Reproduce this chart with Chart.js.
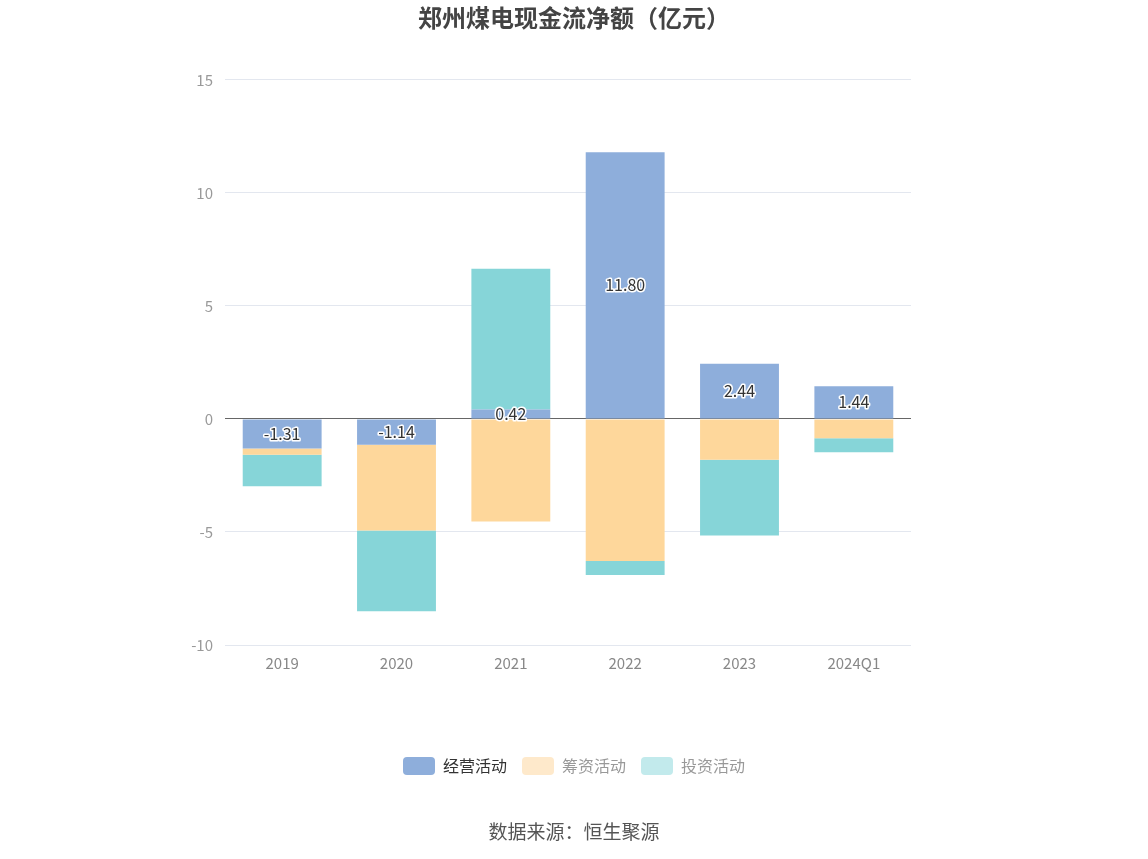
<!DOCTYPE html>
<html>
<head>
<meta charset="utf-8">
<title>郑州煤电现金流净额</title>
<script src="https://cdn.jsdelivr.net/npm/chart.js@4.4.1/dist/chart.umd.min.js"></script>
<style>
  html, body { margin: 0; padding: 0; background: #fff; }
</style>
</head>
<body>
<canvas id="cashChart" width="1148" height="859"></canvas>
<script>
// values in 亿元
const categories = ['2019', '2020', '2021', '2022', '2023', '2024Q1'];
const operating = [-1.31, -1.14, 0.42, 11.80, 2.44, 1.44];
const financing = [-0.27, -3.80, -4.54, -6.28, -1.81, -0.85];
const investing = [-1.40, -3.57, 6.22, -0.62, -3.35, -0.62];
const yTicks = [-10, -5, 0, 5, 10, 15];

const seriesNames = ['经营活动', '筹资活动', '投资活动'];
const barColors = ['#8eaedb', '#fed79b', '#86d5d8'];
const legendBoxColors = ['#8eaedb', '#fee9cb', '#c2eaec'];
const legendTextColors = ['#333333', '#999999', '#999999'];

const FONT = '"Noto Sans CJK SC", "Noto Sans", sans-serif';
Chart.defaults.font.family = FONT;

// title and legend are centred on the whole canvas, not on the padded area
const centreBlocks = {
    id: 'centreBlocks',
    afterLayout(chart) {
        [chart.titleBlock, chart.legend].forEach(box => {
            if (!box) return;
            box.left = 0;
            box.right = chart.width;
            box.width = chart.width;
        });
    }
};

// value labels in the middle of the 经营活动 bars
const barLabels = {
    id: 'barLabels',
    afterDatasetsDraw(chart) {
        const ctx = chart.ctx;
        const meta = chart.getDatasetMeta(0);
        ctx.save();
        ctx.font = '16px ' + FONT;
        ctx.textAlign = 'center';
        ctx.textBaseline = 'middle';
        ctx.lineJoin = 'round';
        ctx.lineWidth = 3;
        ctx.strokeStyle = '#ffffff';
        ctx.fillStyle = '#333333';
        meta.data.forEach((bar, i) => {
            const text = operating[i].toFixed(2);
            const y = (bar.y + bar.base) / 2;
            ctx.strokeText(text, bar.x, y);
            ctx.fillText(text, bar.x, y);
        });
        ctx.restore();
    }
};

// source line under the legend
const sourceNote = {
    id: 'sourceNote',
    afterDraw(chart) {
        const ctx = chart.ctx;
        ctx.save();
        ctx.font = '19px ' + FONT;
        ctx.fillStyle = '#555555';
        ctx.textAlign = 'center';
        ctx.textBaseline = 'middle';
        ctx.fillText('数据来源：恒生聚源', chart.width / 2, 832);
        ctx.restore();
    }
};

new Chart(document.getElementById('cashChart'), {
    type: 'bar',
    data: {
        labels: categories,
        datasets: [operating, financing, investing].map((values, i) => ({
            label: seriesNames[i],
            data: values,
            backgroundColor: barColors[i],
            borderWidth: 0,
            barPercentage: 0.69,
            categoryPercentage: 1
        }))
    },
    options: {
        responsive: false,
        animation: false,
        layout: { padding: { top: 0, bottom: 74, left: 170, right: 237 } },
        plugins: {
            title: {
                display: true,
                text: '郑州煤电现金流净额（亿元）',
                color: '#444444',
                font: { size: 24, weight: 'bold' },
                padding: { top: 3, bottom: 48 }
            },
            legend: {
                display: true,
                position: 'bottom',
                onClick: null,
                labels: {
                    boxWidth: 32,
                    boxHeight: 18,
                    padding: 15,
                    useBorderRadius: true,
                    borderRadius: 4,
                    font: { size: 16 },
                    generateLabels: () => seriesNames.map((name, i) => ({
                        text: name,
                        fillStyle: legendBoxColors[i],
                        strokeStyle: legendBoxColors[i],
                        lineWidth: 0,
                        fontColor: legendTextColors[i],
                        borderRadius: 4,
                        datasetIndex: i,
                        hidden: false
                    }))
                }
            },
            tooltip: { enabled: false }
        },
        scales: {
            x: {
                stacked: true,
                grid: { display: false },
                border: { display: false },
                ticks: { color: '#888888', font: { size: 15 }, padding: 1 },
                afterFit: scale => { scale.height = 97; }
            },
            y: {
                stacked: true,
                min: -10,
                max: 15,
                afterBuildTicks: scale => { scale.ticks = yTicks.map(v => ({ value: v })); },
                afterFit: scale => { scale.width = 55; },
                grid: {
                    drawTicks: false,
                    color: ctx => ctx.tick && ctx.tick.value === 0 ? '#666666' : '#e3e7ef',
                    lineWidth: 1
                },
                border: { display: false },
                ticks: { color: '#999999', font: { size: 15 }, padding: 12 }
            }
        }
    },
    plugins: [centreBlocks, barLabels, sourceNote]
});
</script>
</body>
</html>
